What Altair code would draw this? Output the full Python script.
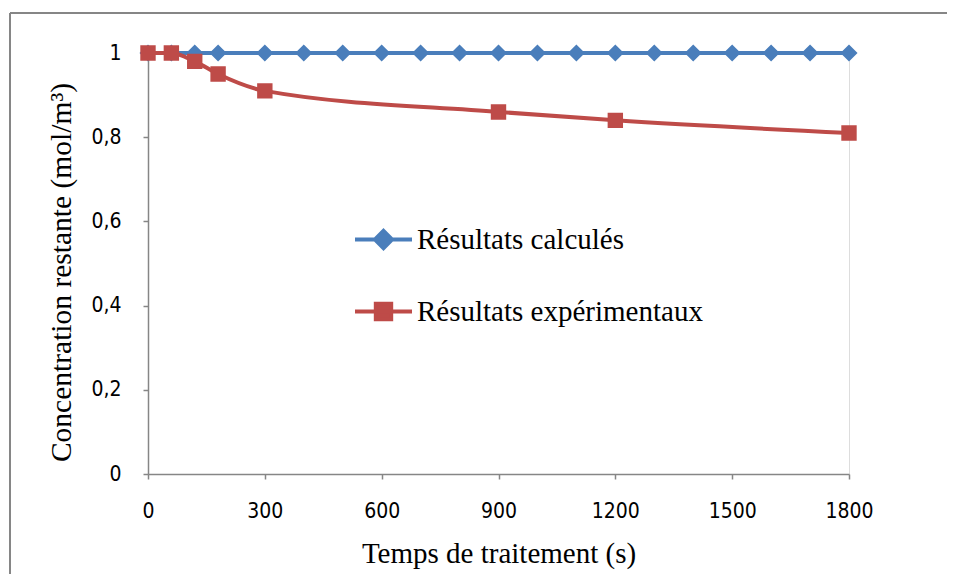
import altair as alt
import pandas as pd

# ---- data ----
t_calc = [0, 60, 120, 180, 300, 400, 500, 600, 700, 800, 900, 1000,
          1100, 1200, 1300, 1400, 1500, 1600, 1700, 1800]
c_calc = [1.0, 1.0, 1.0, 1.0, 1.0, 1.0, 1.0, 1.0, 1.0, 1.0, 1.0, 1.0,
          1.0, 1.0, 1.0, 1.0, 1.0, 1.0, 1.0, 1.0]
t_exp = [0, 60, 120, 180, 300, 900, 1200, 1800]
c_exp = [1.0, 1.0, 0.98, 0.95, 0.91, 0.86, 0.84, 0.81]
series = ["Résultats calculés", "Résultats expérimentaux"]
x_ticks = [0, 300, 600, 900, 1200, 1500, 1800]
y_ticks = [0, 0.2, 0.4, 0.6, 0.8, 1]

colors = ["#4A7EBB", "#BE4B48"]
# symbol paths: horizontal stroke (visible only in legend) + marker
shapes = ["M-1,0H1M0,-0.3L0.3,0L0,0.3L-0.3,0Z",
          "M-1,0H1M-0.27,-0.27H0.27V0.27H-0.27Z"]

df = pd.concat([
    pd.DataFrame({"t": t_calc, "c": c_calc, "serie": series[0]}),
    pd.DataFrame({"t": t_exp, "c": c_exp, "serie": series[1]}),
], ignore_index=True)

serif = "Liberation Serif"
narrow = "Liberation Sans Narrow, DejaVu Sans Condensed, sans-serif"
SYM = 3249

legend = alt.Legend(
    title=None, orient="none", legendX=205, legendY=156,
    labelFont=serif, labelFontSize=29, labelColor="#000000", labelLimit=0,
    symbolSize=SYM, symbolStrokeWidth=4, labelOffset=3, rowPadding=24,
)
color = alt.Color("serie:N", scale=alt.Scale(domain=series, range=colors), legend=legend)
shape = alt.Shape("serie:N", scale=alt.Scale(domain=series, range=shapes), legend=legend)

x = alt.X("t:Q", scale=alt.Scale(domain=[0, 1800], nice=False),
          axis=alt.Axis(values=x_ticks, format="d", title="Temps de traitement (s)",
                        titleFont=serif, titleFontSize=29, titleFontWeight="normal",
                        titleColor="#000000", titleY=88, titleBaseline="alphabetic",
                        labelFont=narrow, labelFontSize=21, labelColor="#000000",
                        labelPadding=21, labelBaseline="top", labelFlush=False,
                        tickSize=5, tickColor="#868686", domainColor="#868686",
                        domainWidth=1.5, tickWidth=1.5, grid=False))
y = alt.Y("c:Q", scale=alt.Scale(domain=[0, 1], nice=False),
          axis=alt.Axis(values=y_ticks, title="Concentration restante (mol/m³)",
                        labelExpr="replace(format(datum.value, '.1~f'), '.', ',')",
                        titleFont=serif, titleFontSize=29.5, titleFontWeight="normal",
                        titleColor="#000000", titleX=-78, titleY=219,
                        titleBaseline="alphabetic", titleAngle=-90,
                        labelFont=narrow, labelFontSize=21, labelColor="#000000",
                        labelPadding=22, labelFlush=False,
                        tickSize=5, tickColor="#868686", domainColor="#868686",
                        domainWidth=1.5, tickWidth=1.5, grid=False))

base = alt.Chart(df)

def series_layers(name, interp):
    sel = base.transform_filter(alt.datum.serie == name)
    line = sel.mark_line(strokeWidth=4, interpolate=interp).encode(
        x=x, y=y, color=color, order="t:Q")
    pts = sel.mark_point(filled=True, size=SYM, strokeWidth=0, opacity=1).encode(
        x=x, y=y, color=color, shape=shape)
    return [line, pts]

frame = alt.Chart(pd.DataFrame({"k": [0]})).mark_rule(
    color="#868686", strokeWidth=2, clip=False)
frame_left = frame.encode(x=alt.value(-138), y=alt.value(-40), y2=alt.value(560))
frame_top = frame.encode(x=alt.value(-138), x2=alt.value(900), y=alt.value(-40))

layers = series_layers(series[0], "linear") + series_layers(series[1], "monotone")

chart = alt.layer(frame_left, frame_top, *layers).properties(
    width=701, height=421,
    autosize=alt.AutoSizeParams(type="none"),
    padding={"left": 140, "top": 45, "right": 98, "bottom": 100},
).configure_view(stroke=None).configure(background="#ffffff")

chart.save("out.html", embed_options={"renderer": "svg", "actions": False})
